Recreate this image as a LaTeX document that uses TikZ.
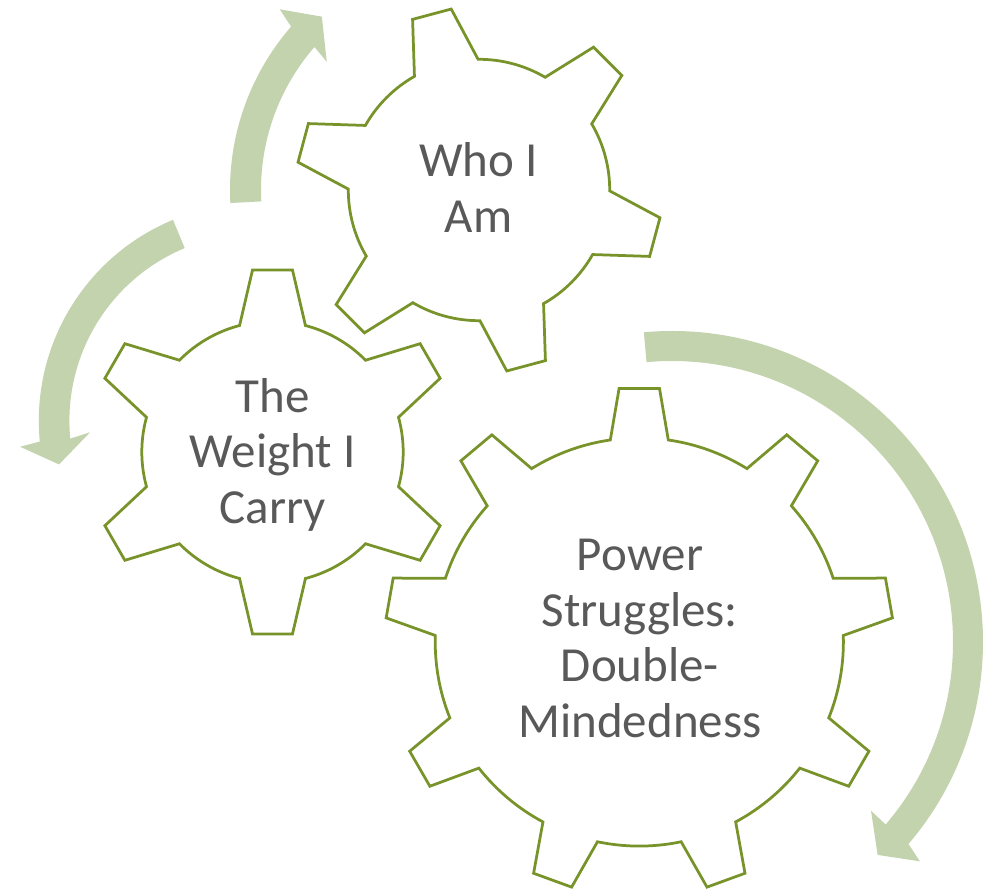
\documentclass[tikz,border=0pt]{standalone}
\usepackage{fontspec}
\setmainfont{Carlito}
\definecolor{gearline}{RGB}{119,147,41}
\definecolor{turnfill}{RGB}{195,211,173}
\definecolor{gtextgray}{RGB}{89,89,89}
% teeth, first tooth angle, root radius, root half angle, tip radius, tip half angle
\newcommand{\gearpath}[6]{(#2-#4:#3)
  \foreach \k [evaluate=\k as \a using #2+(\k-1)*360/#1] in {1,...,#1} {
    -- (\a-#6:#5) -- (\a+#6:#5) -- (\a+#4:#3)
    arc[start angle=\a+#4, end angle=\a+360/#1-#4, radius=#3pt]
  } -- cycle}

\begin{document}
\begin{tikzpicture}[x=1pt, y=1pt,
  gear/.style={draw=gearline, line width=2.75pt, fill=white},
  turn/.style={fill=turnfill},
  gtext/.style={text=gtextgray, align=center, font=\fontsize{49}{55.5}\selectfont}]
\useasboundingbox (0,0) rectangle (988,892);
\coordinate (who) at (479,702);
\coordinate (weight) at (272.5,440);
\coordinate (power) at (639.3,250);
% arrows
\fill[turn, shift={(who)}] (183:249) arc[start angle=183, end angle=139, radius=249pt]
  -- (137.8:269) -- (132.2:234) -- (139.9:199) -- (139:218)
  arc[start angle=139, end angle=183, radius=218pt] -- cycle;
\fill[turn, shift={(256.2,471.3)}] (112.5:217.4) arc[start angle=112.5, end angle=185.5, radius=217.4pt]
  -- (186.3:237.5) -- (192.5:202) -- (184:166.5) -- (185.5:186.8)
  arc[start angle=185.5, end angle=112.5, radius=186.8pt] -- cycle;
\fill[turn, shift={(672,250)}] (95.2:311) arc[start angle=95.2, end angle=-40.5, radius=311pt]
  -- (-41.5:331) -- (-46:296) -- (-40.3:261) -- (-40.5:281)
  arc[start angle=-40.5, end angle=95.2, radius=281pt] -- cycle;
% gears
\draw[gear, shift={(who)}] \gearpath{6}{105}{130.7}{14.6}{183.1}{6.27};
\draw[gear, shift={(weight)}] \gearpath{6}{90}{130.7}{14.6}{183.1}{6.27};
\draw[gear, shift={(power)}] \gearpath{9}{90}{204.1}{8.17}{254.3}{4.56};
\node[gtext] (whotext) at (478.5,704.6) {Who I\\Am};
\node[gtext] (weighttext) at (272.6,437.5) {The\\Weight I\\Carry};
\node[gtext] (powertext) at (640,253.6) {Power\\Struggles:\\Double-\\Mindedness};
\end{tikzpicture}
\end{document}
